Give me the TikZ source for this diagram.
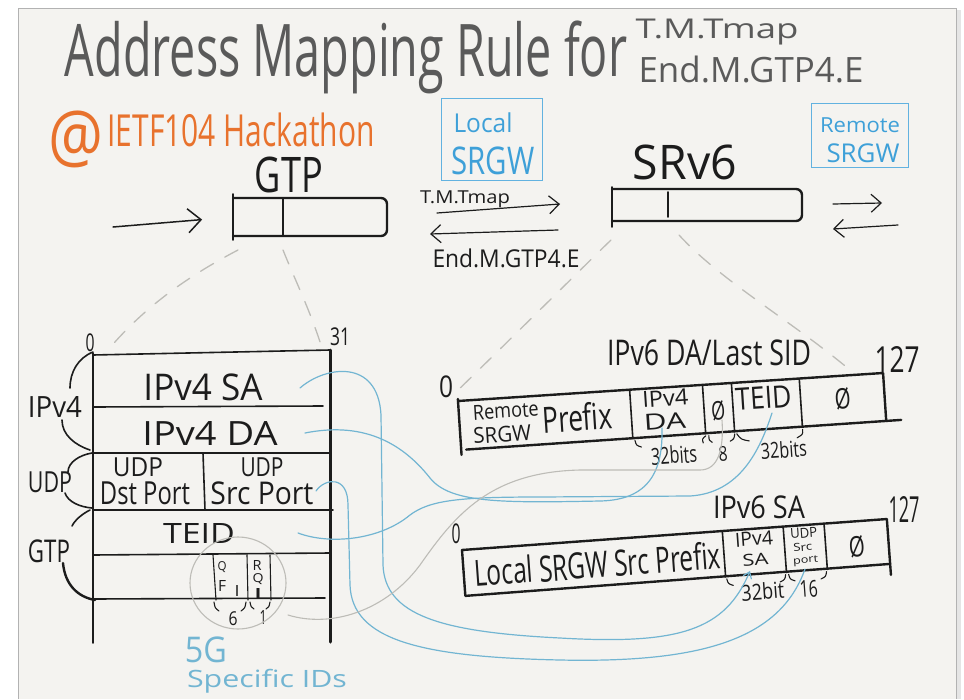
\documentclass[tikz,border=0pt]{standalone}
\usepackage{fontspec}
\setmainfont{Open Sans}
\usepackage{graphicx}
\usetikzlibrary{arrows.meta}
\definecolor{paper}{HTML}{F4F3F0}
\definecolor{ink}{HTML}{1C1C1C}
\definecolor{titlegray}{HTML}{5A5A5A}
\definecolor{orangeink}{HTML}{E8722D}
\definecolor{blueink}{HTML}{3EA0D8}
\definecolor{boxblue}{HTML}{62B2E0}
\definecolor{curveblue}{HTML}{72B5D2}
\definecolor{pencil}{HTML}{BDBCB7}
% text squeezed into a given width and total height (in pt)
\newcommand{\fitt}[3]{\resizebox*{#1pt}{#2pt}{#3}}

\begin{document}
\begin{tikzpicture}[x=1pt,y=-1pt,
  txt/.style={inner sep=0pt, outer sep=0pt, text=ink},
  inkline/.style={draw=ink, line width=1.6pt, line cap=round, line join=round},
  boldline/.style={draw=ink, line width=2.4pt, line cap=round, line join=round},
  thinink/.style={draw=ink, line width=1.1pt, line cap=round},
  gwbox/.style={draw=boxblue, line width=0.9pt, inner sep=0pt},
  barnode/.style={inner sep=0pt, outer sep=0pt},
  pencildash/.style={draw=pencil, line width=1.3pt, line cap=round, dash pattern=on 15pt off 13pt},
  pencilline/.style={draw=pencil, line width=1.1pt, line cap=round},
  mapcurve/.style={draw=curveblue, line width=1.2pt, line cap=round},
  bigarrow/.style={draw=ink, line width=1.5pt, line cap=round, -{Straight Barb[length=13pt,width=24pt,line width=1.5pt]}},
  smallarrow/.style={draw=ink, line width=1.2pt, line cap=round, -{Straight Barb[length=10pt,width=18pt,line width=1.2pt]}},
]
\useasboundingbox (0,0) rectangle (964,699);
% sheet
\fill[white] (0,0) rectangle (964,699);
\fill[black!10] (956,10) rectangle (961,699);
\fill[paper] (18,8) rectangle (956,699);
\draw[black!30, line width=0.8pt] (18,699) -- (18,8) -- (956,8) -- (956,699);

% heading
\node[txt, text=titlegray] (title) at (346,57) {\fitt{562}{73}{Address Mapping Rule for}};
\node[txt, text=titlegray] (fnA) at (717,32) {\fitt{163}{26}{T.M.Tmap}};
\node[txt, text=titlegray] (fnB) at (751,69) {\fitt{225}{27}{End.M.GTP4.E}};
\node[txt, text=orangeink] (atsign) at (76,139) {\fitt{55}{57}{@}};
\node[txt, text=orangeink] (hack) at (241,130) {\fitt{267}{34}{IETF104 Hackathon}};

% gateways
\node[gwbox, minimum width=101pt, minimum height=82pt] (localgw) at (491.5,139) {};
\node[txt, text=blueink] (localA) at (483,123) {\fitt{59}{20}{Local}};
\node[txt, text=blueink] (localB) at (493,161) {\fitt{83}{28}{SRGW}};
\node[gwbox, minimum width=97pt, minimum height=64pt] (remotegw) at (859.5,135) {};
\node[txt, text=blueink] (remoteA) at (860,125) {\fitt{80}{15}{Remote}};
\node[txt, text=blueink] (remoteB) at (863,153) {\fitt{73}{19}{SRGW}};

% GTP packet
\node[txt] (gtplbl) at (289,175) {\fitt{68}{36}{GTP}};
\node[barnode, minimum width=154pt, minimum height=38pt] (gtpbar) at (310,217) {};
\draw[boldline, rounded corners=6pt] (gtpbar.north west) -- (gtpbar.north east) -- (gtpbar.south east) -- (gtpbar.south west);
\draw[inkline] ([yshift=4pt]gtpbar.north west) -- ([yshift=-4pt]gtpbar.south west);
\draw[inkline] ([xshift=50pt]gtpbar.north west) -- ([xshift=50pt]gtpbar.south west);
\coordinate (inflow) at (113,227);
\draw[bigarrow, shorten >=31pt] (inflow) -- (gtpbar.west);

% SRv6 packet
\node[txt] (srv6lbl) at (685,162) {\fitt{104}{35}{SRv6}};
\node[barnode, minimum width=190pt, minimum height=32pt] (srv6bar) at (707,205) {};
\draw[boldline, rounded corners=6pt] (srv6bar.north west) -- (srv6bar.north east) -- (srv6bar.south east) -- (srv6bar.south west);
\draw[inkline] ([yshift=2pt]srv6bar.north west) -- ([yshift=-6pt]srv6bar.south west);
\draw[inkline] ([xshift=56pt,yshift=-3pt]srv6bar.north west) -- ([xshift=56pt,yshift=4pt]srv6bar.south west);

% translation arrows
\coordinate (tmS) at (437,213); \coordinate (tmE) at (560,204);
\draw[smallarrow] (tmS) -- (tmE);
\node[txt] (tmlbl) at (465,199) {\fitt{90}{17}{T.M.Tmap}};
\coordinate (emS) at (558,230); \coordinate (emE) at (430,234);
\draw[smallarrow] (emS) -- (emE);
\node[txt] (emlbl) at (506,258) {\fitt{147}{19}{End.M.GTP4.E}};
\coordinate (rtS) at (833,204); \coordinate (rtE) at (882,203);
\draw[smallarrow] (rtS) -- (rtE);
\coordinate (lfS) at (898,225); \coordinate (lfE) at (833,229);
\draw[smallarrow] (lfS) -- (lfE);

% zoom guides
\draw[pencildash] (238,250) .. controls (200,270) and (150,300) .. (108,350);
\draw[pencildash] (283,250) .. controls (295,280) and (310,310) .. (322,348);
\draw[pencildash] (611,240) .. controls (580,270) and (520,330) .. (455,393);
\draw[pencildash] (679,235) .. controls (720,280) and (790,320) .. (850,370);

% GTP/UDP/IPv4 header layout
\draw[inkline] (93,353) -- (93,643);
\draw[boldline, line width=3pt] (330,350) -- (330,642);
\draw[inkline] (93,355) -- (330,350);
\draw[inkline] (93,407) -- (323,406);
\draw[inkline] (93,453) -- (330,453);
\draw[inkline] (93,510) -- (333,510);
\draw[inkline] (93,555) -- (330,553);
\draw[inkline] (93,599) -- (325,598);
\draw[inkline] (203,453) -- (205,510);
\draw[thinink] (213,555) -- (216,600);
\draw[thinink] (247,555) -- (248,600);
\draw[thinink] (270,555) -- (271,600);
\node[txt] (bit0) at (90,343) {\fitt{9}{18}{0}};
\node[txt] (bit31) at (340,337) {\fitt{20}{18}{31}};
\node[txt] (ipsa) at (203,387) {\fitt{119}{27}{IPv4 SA}};
\node[txt] (ipda) at (210,433) {\fitt{135}{24}{IPv4 DA}};
\node[txt] (udpL) at (138,467) {\fitt{50}{19}{UDP}};
\node[txt] (dstport) at (145,493) {\fitt{90}{23}{Dst Port}};
\node[txt] (udpR) at (262,467) {\fitt{43}{19}{UDP}};
\node[txt] (srcport) at (262,493) {\fitt{103}{23}{Src Port}};
\node[txt] (teid) at (199,533) {\fitt{72}{20}{TEID}};
\node[txt] (qfiQ) at (222,567) {\fitt{9}{11}{Q}};
\node[txt] (qfiF) at (222,586) {\fitt{8}{11}{F}};
\node[txt] (qfiI) at (237,591) {\fitt{5}{11}{I}};
\node[txt] (rqiR) at (257,565) {\fitt{9}{10}{R}};
\node[txt] (rqiQ) at (258,579) {\fitt{11}{11}{Q}};
\node[txt] (rqiI) at (258,593) {\fitt{10}{10}{I}};
\draw[thinink] (214,602) .. controls (215,608) .. (219,611);
\draw[thinink] (246,602) .. controls (245,608) .. (241,611);
\draw[thinink] (250,602) .. controls (251,607) .. (254,609);
\draw[thinink] (270,602) .. controls (269,607) .. (266,609);
\node[txt] (len6) at (233,619) {\fitt{9}{14}{6}};
\node[txt] (len1) at (263,617) {\fitt{7}{14}{1}};
\draw[pencilline] (238,583) ellipse [x radius=48, y radius=46];
\node[txt, text=curveblue] (fiveg) at (206,650) {\fitt{42}{26}{5G}};
\node[txt, text=curveblue] (specific) at (267,681) {\fitt{160}{24}{Specific IDs}};

% header groups
\draw[inkline] (93,352) .. controls (78,358) and (70,372) .. (70,388);
\draw[inkline] (62,420) .. controls (62,435) and (75,445) .. (90,450);
\node[txt] (grpip) at (55,407) {\fitt{54}{21}{IPv4}};
\draw[inkline] (92,453) .. controls (80,455) and (68,462) .. (68,472);
\draw[inkline] (65,493) .. controls (68,502) and (80,507) .. (92,508);
\node[txt] (grpudp) at (50,482) {\fitt{44}{21}{UDP}};
\draw[inkline] (90,510) .. controls (82,514) and (75,520) .. (72,526);
\draw[boldline] (63,563) .. controls (65,585) and (78,597) .. (95,600);
\node[txt] (grpgtp) at (49,551) {\fitt{42}{23}{GTP}};

% IPv6 destination / last SID
\node[txt] (dalbl) at (709,353) {\fitt{204}{26}{IPv6 DA/Last SID}};
\node[txt] (da0) at (446,387) {\fitt{14}{22}{0}};
\node[txt] (da127) at (897,359) {\fitt{45}{26}{127}};
\begin{scope}[shift={(458,401)}, rotate=3.77]
  \node[barnode, minimum width=426pt, minimum height=48pt, anchor=north west, transform shape] (dabox) at (0,0) {};
  \draw[boldline] (0,0) -- (426,0) -- (426,48);
  \draw[boldline] (0,-2) -- (0,54);
  \draw[boldline] (5,49) -- (441,48);
  \draw[inkline] (172,0) -- (172,49);
  \draw[inkline] (245,0) -- (245,49);
  \draw[inkline] (274,0) -- (274,49);
  \draw[inkline] (342,0) -- (342,49);
  \node[txt, transform shape] (daRemote) at (47,13) {\fitt{66}{15}{Remote}};
  \node[txt, transform shape] (daSrgw) at (42,36) {\fitt{58}{16}{SRGW}};
  \node[txt, transform shape] (daPrefix) at (118,24) {\fitt{70}{28}{Prefix}};
  \node[txt, transform shape] (daIp) at (207,11) {\fitt{46}{16}{IPv4}};
  \node[txt, transform shape] (daDa) at (205,34) {\fitt{42}{16}{DA}};
  \node[txt, transform shape] (daZero) at (259,27) {\fitt{14}{20}{Ø}};
  \node[txt, transform shape] (daTeid) at (305,17) {\fitt{56}{22}{TEID}};
  \node[txt, transform shape] (daPad) at (384,23) {\fitt{16}{22}{Ø}};
  \draw[thinink] (174,51) .. controls (175,56) .. (180,58);
  \draw[thinink] (245,51) .. controls (241,54) .. (242,58);
  \draw[thinink] (248,51) .. controls (248,56) .. (251,58);
  \draw[thinink] (274,51) .. controls (273,56) .. (269,58);
  \draw[thinink] (276,51) .. controls (280,57) .. (288,59);
  \draw[thinink] (342,51) .. controls (342,56) .. (336,59);
  \node[txt, transform shape] (daLenA) at (212,68) {\fitt{46}{18}{32bits}};
  \node[txt, transform shape] (daLenB) at (261,70) {\fitt{9}{15}{8}};
  \node[txt, transform shape] (daLenC) at (322,70) {\fitt{46}{17}{32bits}};
\end{scope}

% IPv6 source
\node[txt] (salbl) at (759,507) {\fitt{92}{23}{IPv6 SA}};
\node[txt] (sa0) at (456,534) {\fitt{9}{20}{0}};
\node[txt] (sa127) at (904,509) {\fitt{31}{26}{127}};
\begin{scope}[shift={(462,550)}, rotate=4.17]
  \node[barnode, minimum width=426pt, minimum height=45pt, anchor=north west, transform shape] (sabox) at (0,0) {};
  \draw[boldline] (0,0) -- (426,0) -- (426,56);
  \draw[boldline] (0,0) -- (0,46) -- (426,45);
  \draw[inkline] (261,0) -- (261,46);
  \draw[inkline] (322,0) -- (322,46);
  \draw[inkline] (363,0) -- (363,46);
  \node[txt, transform shape] (saPrefix) at (134,24) {\fitt{247}{28}{Local SRGW Src Prefix}};
  \node[txt, transform shape] (saIp) at (292,10) {\fitt{38}{14}{IPv4}};
  \node[txt, transform shape] (saSa) at (292,31) {\fitt{26}{12}{SA}};
  \node[txt, transform shape] (saUdp) at (342,8) {\fitt{27}{10}{UDP}};
  \node[txt, transform shape] (saSrc) at (340,22) {\fitt{19}{8}{Src}};
  \node[txt, transform shape] (saPort) at (342,36) {\fitt{25}{9}{port}};
  \node[txt, transform shape] (saPad) at (394,25) {\fitt{16}{22}{Ø}};
  \draw[thinink] (262,48) .. controls (263,53) .. (268,55);
  \draw[thinink] (321,48) .. controls (320,53) .. (315,55);
  \draw[thinink] (324,48) .. controls (325,53) .. (330,55);
  \draw[thinink] (362,48) .. controls (361,53) .. (356,55);
  \node[txt, transform shape] (saLenA) at (297,63) {\fitt{43}{17}{32bit}};
  \node[txt, transform shape] (saLenB) at (343,64) {\fitt{18}{17}{16}};
\end{scope}

% field mappings
\draw[mapcurve, -{Straight Barb[length=6pt,width=9pt]}] (300,388) .. controls (325,366) and (378,358) .. (381,415) -- (383,565) .. controls (385,615) and (440,632) .. (560,638) .. controls (680,645) and (725,630) .. (750,571);
\draw[mapcurve] (305,433) .. controls (360,422) and (400,440) .. (430,478) .. controls (450,503) and (500,503) .. (600,501) .. controls (650,500) and (663,470) .. (662,428);
\draw[mapcurve] (316,491) .. controls (325,478) and (348,475) .. (348,505) -- (350,585) .. controls (352,640) and (420,657) .. (560,660) .. controls (700,663) and (780,640) .. (805,569);
\draw[mapcurve] (298,533) .. controls (330,545) and (380,540) .. (410,515) .. controls (430,500) and (460,497) .. (540,497) -- (690,496) .. controls (740,493) and (760,450) .. (772,413);
\draw[pencilline] (288,615) .. controls (330,628) and (385,612) .. (420,565) .. controls (455,515) and (490,472) .. (580,470) -- (700,470) .. controls (718,470) and (724,450) .. (722,420);
\end{tikzpicture}
\end{document}
